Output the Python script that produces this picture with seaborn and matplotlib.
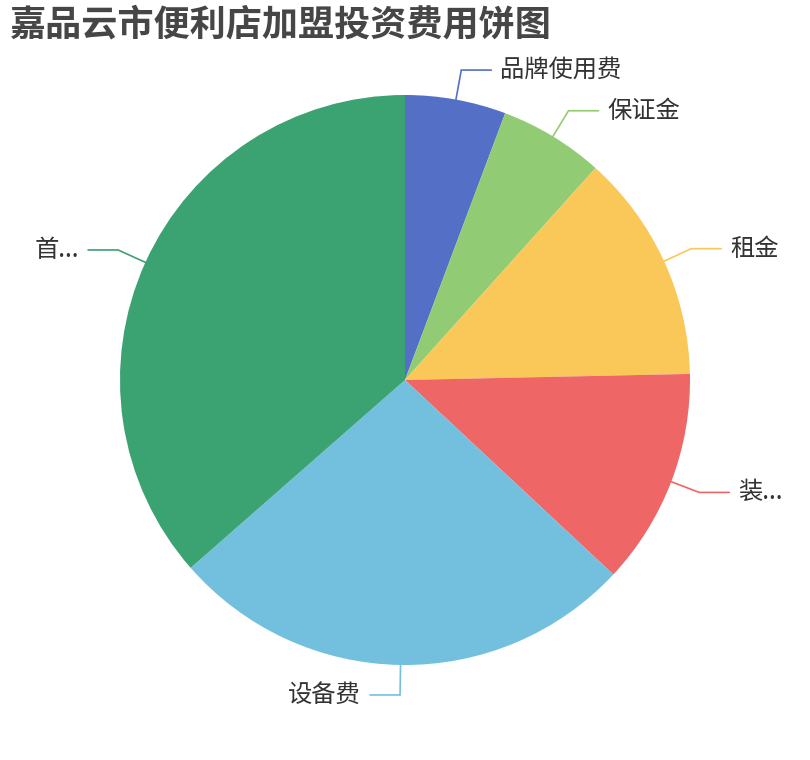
import numpy as np
import matplotlib.pyplot as plt
import seaborn as sns

# 数据
labels = ["品牌使用费", "保证金", "租金", "装...", "设备费", "首..."]
values = [0.8, 0.83, 1.82, 1.72, 3.72, 5.1]
colors = ["#5470c6", "#91cc75", "#fac858", "#ee6666", "#73c0de", "#3ba272"]
title = "嘉品云市便利店加盟投资费用饼图"

sns.set_theme(style="white")
plt.rcParams['font.family'] = ['Noto Sans CJK SC', 'DejaVu Sans']

W, H = 810, 760
cx, cy, r = 405, 380, 285

fig = plt.figure(figsize=(W / 100, H / 100), dpi=100)
ax = fig.add_axes([0, 0, 1, 1])

palette = sns.color_palette(colors)
wedges, _ = ax.pie(values, colors=palette, startangle=90, counterclock=False,
                   center=(cx, H - cy), radius=r,
                   wedgeprops=dict(linewidth=0))

# pie 会改坐标范围，这里重新设回像素坐标
ax.set_xlim(0, W)
ax.set_ylim(0, H)
ax.set_aspect("equal")
ax.axis("off")

# 标签引导线
for w, lab, col in zip(wedges, labels, palette):
    mid = np.deg2rad((w.theta1 + w.theta2) / 2)
    dx, dy = np.cos(mid), np.sin(mid)
    x0, y0 = cx + r * dx, H - cy + r * dy
    x1, y1 = cx + (r + 30) * dx, H - cy + (r + 30) * dy
    side = 1 if dx >= 0 else -1
    x2 = x1 + side * 30
    ax.plot([x0, x1, x2], [y0, y1, y1], color=col, lw=1.2, solid_joinstyle="miter")
    ax.text(x2 + side * 9, y1, lab, fontsize=17.5, color="#333333",
            ha="left" if side > 0 else "right", va="center")

fig.text(10 / W, 1 - 25 / H, title, fontsize=26, fontweight="bold",
         color="#464646", ha="left", va="center")

fig.savefig("out.png", dpi=100)
